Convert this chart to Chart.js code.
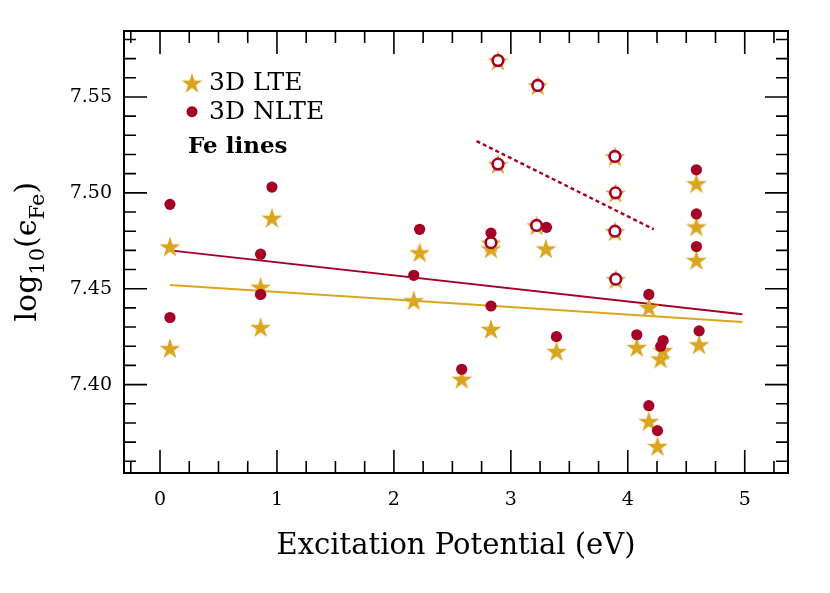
<!DOCTYPE html>
<html>
<head>
<meta charset="utf-8">
<script src="https://cdn.jsdelivr.net/npm/chart.js@4.4.1/dist/chart.umd.min.js"></script>
<style>
html,body{margin:0;padding:0;background:#fff;}
canvas{display:block;}
</style>
</head>
<body>
<canvas id="c" width="830" height="593"></canvas>
<script>
// ---- data ----
const lteX = [0.085, 0.085, 0.957, 0.86, 0.86, 2.22, 2.17, 2.58, 2.83, 2.83, 2.83, 2.89, 3.23, 2.89, 3.22, 3.30, 3.39, 3.89, 3.895, 3.89, 3.897, 4.18, 4.077, 4.28, 4.30, 4.18, 4.254, 4.587, 4.587, 4.587, 4.61];
const lteY = [7.472, 7.419, 7.487, 7.451, 7.430, 7.469, 7.444, 7.403, 7.429, 7.471, 7.474, 7.569, 7.556, 7.515, 7.483, 7.471, 7.4175, 7.519, 7.500, 7.480, 7.455, 7.4405, 7.4196, 7.4136, 7.418, 7.381, 7.368, 7.505, 7.4825, 7.465, 7.421];
const nlteX = [0.085, 0.085, 0.957, 0.86, 0.86, 2.22, 2.17, 2.58, 2.83, 2.83, 3.305, 3.39, 4.18, 4.077, 4.282, 4.302, 4.18, 4.254, 4.587, 4.587, 4.587, 4.61];
const nlteY = [7.494, 7.435, 7.503, 7.468, 7.447, 7.481, 7.457, 7.408, 7.441, 7.479, 7.482, 7.425, 7.447, 7.426, 7.420, 7.423, 7.389, 7.376, 7.512, 7.489, 7.472, 7.428];
const openX = [2.83, 2.89, 3.23, 2.89, 3.22, 3.89, 3.895, 3.89, 3.897];
const openY = [7.474, 7.569, 7.556, 7.515, 7.483, 7.519, 7.500, 7.480, 7.455];
const fitX = [0.085, 4.98];
const lteFitY = [7.452, 7.4326];
const nlteFitY = [7.470, 7.4367];
const dotX = [2.707, 4.222];
const dotY = [7.527, 7.481];
const xTicks = [0, 1, 2, 3, 4, 5];
const yTicks = [7.40, 7.45, 7.50, 7.55];
const legendLabels = ['3D LTE', '3D NLTE'];
const noteText = 'Fe lines';
const xTitle = 'Excitation Potential (eV)';

const GOLD = '#DAA520';
const RED = '#A50026';
const FONT = "'DejaVu Serif', serif";

const pts = (xs, ys) => xs.map((x, i) => ({x: x, y: ys[i]}));

function starImg(r, color) {
  const s = Math.ceil(r * 2 + 2);
  const c = document.createElement('canvas');
  c.width = s; c.height = s;
  const g = c.getContext('2d');
  g.fillStyle = color;
  g.beginPath();
  for (let i = 0; i < 10; i++) {
    const rad = i % 2 ? r * 0.382 : r;
    const a = -Math.PI / 2 + i * Math.PI / 5;
    const x = s / 2 + rad * Math.cos(a), y = s / 2 + rad * Math.sin(a) + r * 0.1;
    i ? g.lineTo(x, y) : g.moveTo(x, y);
  }
  g.closePath();
  g.fill();
  return c;
}
const STAR = starImg(11, GOLD);

const decor = {
  id: 'decor',
  afterDraw(chart) {
    const ctx = chart.ctx, a = chart.chartArea;
    const xs = chart.scales.x, ys = chart.scales.y;
    ctx.save();
    ctx.strokeStyle = '#000';
    // inward ticks
    ctx.lineWidth = 1.6;
    for (let k = -1; k <= 21; k++) {
      const v = k * 0.25;
      const px = xs.getPixelForValue(v);
      if (px < a.left + 1 || px > a.right - 1) continue;
      const L = (k % 4 === 0) ? 23 : 12;
      ctx.beginPath();
      ctx.moveTo(px, a.bottom); ctx.lineTo(px, a.bottom - L);
      ctx.moveTo(px, a.top); ctx.lineTo(px, a.top + L);
      ctx.stroke();
    }
    for (let k = 736; k <= 758; k++) {
      const v = k / 100;
      const py = ys.getPixelForValue(v);
      if (py < a.top + 1 || py > a.bottom - 1) continue;
      const L = (k % 5 === 0) ? 23 : 12;
      ctx.beginPath();
      ctx.moveTo(a.left, py); ctx.lineTo(a.left + L, py);
      ctx.moveTo(a.right, py); ctx.lineTo(a.right - L, py);
      ctx.stroke();
    }
    // frame
    ctx.lineWidth = 2;
    ctx.strokeRect(a.left, a.top, a.right - a.left, a.bottom - a.top);

    // legend
    ctx.drawImage(STAR, 192 - STAR.width / 2, 82.7 - STAR.height / 2);
    ctx.fillStyle = RED;
    ctx.beginPath(); ctx.arc(192, 111.7, 5.5, 0, Math.PI * 2); ctx.fill();
    ctx.fillStyle = '#000';
    ctx.font = '25px ' + FONT;
    ctx.textBaseline = 'middle';
    ctx.textAlign = 'left';
    ctx.fillText(legendLabels[0], 209, 83);
    ctx.fillText(legendLabels[1], 209, 112);
    ctx.font = 'bold 23px ' + FONT;
    ctx.fillText(noteText, 188, 147);

    // x title
    ctx.font = '29px ' + FONT;
    ctx.textAlign = 'center';
    ctx.fillText(xTitle, (a.left + a.right) / 2, 546);

    // y title (rotated, with subscripts)
    const segs = [['log', 30, 0], ['10', 21, 8], ['(', 30, 0], ['\u03F5', 30, 0], ['Fe', 21, 8], [')', 30, 0]];
    ctx.save();
    ctx.translate(36, 251.7);
    ctx.rotate(-Math.PI / 2);
    ctx.textAlign = 'left';
    ctx.textBaseline = 'alphabetic';
    let w = 0;
    segs.forEach(s => { ctx.font = s[1] + 'px ' + FONT; w += ctx.measureText(s[0]).width; });
    let x = -w / 2;
    segs.forEach(s => {
      ctx.font = s[1] + 'px ' + FONT;
      ctx.fillText(s[0], x, s[2]);
      x += ctx.measureText(s[0]).width;
    });
    ctx.restore();
    ctx.restore();
  }
};

new Chart(document.getElementById('c'), {
  type: 'scatter',
  data: {
    datasets: [
      {data: pts(openX, openY), pointStyle: 'circle', pointRadius: 5.3, pointHoverRadius: 5.3,
       backgroundColor: '#fff', borderColor: RED, borderWidth: 2.6, showLine: false},
      {data: pts(nlteX, nlteY), pointStyle: 'circle', pointRadius: 5.6, pointHoverRadius: 5.6,
       backgroundColor: RED, borderColor: RED, borderWidth: 0, showLine: false},
      {data: pts(lteX, lteY), pointStyle: STAR, pointRadius: 11, showLine: false},
      {data: pts(dotX, dotY), showLine: true, pointRadius: 0, borderColor: RED, borderWidth: 2.4,
       borderDash: [4, 3], fill: false},
      {data: pts(fitX, nlteFitY), showLine: true, pointRadius: 0, borderColor: RED, borderWidth: 2, fill: false},
      {data: pts(fitX, lteFitY), showLine: true, pointRadius: 0, borderColor: GOLD, borderWidth: 2, fill: false}
    ]
  },
  options: {
    responsive: false,
    animation: false,
    devicePixelRatio: 1,
    layout: {padding: {top: 31, right: 42, left: 0, bottom: 0}},
    plugins: {legend: {display: false}, tooltip: {enabled: false}},
    scales: {
      x: {
        type: 'linear', min: -0.308, max: 5.37,
        afterBuildTicks: s => { s.ticks = xTicks.map(v => ({value: v})); },
        afterFit: s => { s.height = 120; },
        grid: {display: false, drawTicks: false},
        border: {display: false},
        ticks: {padding: 16, color: '#000', font: {family: FONT, size: 19},
                callback: v => String(v)},
        title: {display: false}
      },
      y: {
        type: 'linear', min: 7.3539, max: 7.5844,
        afterBuildTicks: s => { s.ticks = yTicks.map(v => ({value: v})); },
        afterFit: s => { s.width = 124; },
        grid: {display: false, drawTicks: false},
        border: {display: false},
        ticks: {padding: 12, color: '#000', font: {family: FONT, size: 19},
                callback: v => Number(v).toFixed(2)},
        title: {display: false}
      }
    }
  },
  plugins: [decor]
});
</script>
</body>
</html>
